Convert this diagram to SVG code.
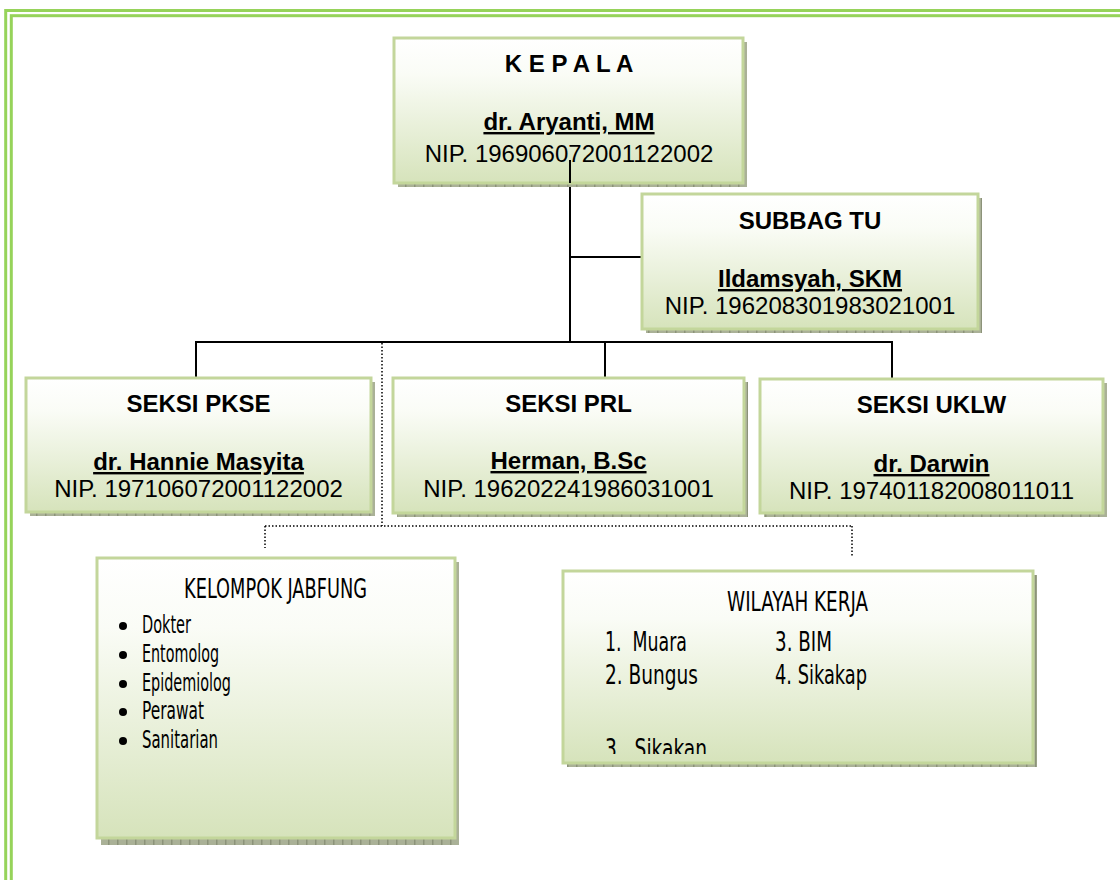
<svg xmlns="http://www.w3.org/2000/svg" width="1120" height="880" viewBox="0 0 1120 880">
<style>
.box{fill:url(#g);stroke:#c3d69b;stroke-width:3}
.sh{fill:url(#tick)}
.t{font-family:"Liberation Sans",Arial,sans-serif;font-size:24px;fill:#000;text-anchor:middle}
.b{font-weight:bold}
.u{text-decoration:underline}
.c{font-family:"Liberation Sans Narrow","DejaVu Sans Condensed","Liberation Sans",sans-serif;font-size:27px;fill:#000;white-space:pre}
.li{font-size:24px}
.ln{stroke:#000;stroke-width:2;fill:none}
.dt{stroke:#000;stroke-width:1.5;stroke-dasharray:1.5 2;fill:none}
.fr{fill:none;stroke:#96d35a;stroke-width:3}
</style>
<defs>
<linearGradient id="g" x1="0" y1="0" x2="0" y2="1">
<stop offset="0" stop-color="#ffffff"/>
<stop offset="0.25" stop-color="#fafcf6"/>
<stop offset="1" stop-color="#d6e3bb"/>
</linearGradient>
<pattern id="tick" width="9" height="9" patternUnits="userSpaceOnUse">
<rect width="9" height="9" fill="#aab197"/>
<rect width="1.5" height="9" fill="#8c937a"/>
</pattern>
<clipPath id="wclip"><rect x="563" y="571" width="470" height="183"/></clipPath>
</defs>
<rect width="1120" height="880" fill="#fff"/>
<rect class="fr" x="5.7" y="10.5" width="1300" height="1000"/>
<rect class="fr" x="11.3" y="15.7" width="1300" height="1000"/>

<g id="connectors">
<line class="ln" x1="570" y1="160" x2="570" y2="343"/>
<line class="ln" x1="570" y1="257" x2="642" y2="257"/>
<line class="ln" x1="195" y1="342" x2="893" y2="342"/>
<line class="ln" x1="196" y1="342" x2="196" y2="378"/>
<line class="ln" x1="605" y1="342" x2="605" y2="378"/>
<line class="ln" x1="892" y1="342" x2="892" y2="379"/>
<line class="dt" x1="382" y1="343" x2="382" y2="526"/>
<line class="dt" x1="265" y1="526" x2="852" y2="526"/>
<line class="dt" x1="265" y1="526" x2="265" y2="548"/>
<line class="dt" x1="852" y1="526" x2="852" y2="556"/>
</g>

<g id="kepala">
<rect class="sh" x="398" y="42" width="349" height="145"/>
<rect class="box" x="394" y="38" width="349" height="145"/>
<text class="t b" x="569" y="72">K E P A L A</text>
<text class="t b u" x="569" y="130">dr. Aryanti, MM</text>
<text class="t" x="569" y="162">NIP. 196906072001122002</text>
</g>
<line class="ln" x1="570" y1="160" x2="570" y2="183"/>

<g id="subbag">
<rect class="sh" x="646" y="198" width="336" height="135"/>
<rect class="box" x="642" y="194" width="336" height="135"/>
<text class="t b" x="810" y="229">SUBBAG TU</text>
<text class="t b u" x="810" y="287">Ildamsyah, SKM</text>
<text class="t" x="810" y="314">NIP. 196208301983021001</text>
</g>

<g id="pkse">
<rect class="sh" x="30" y="382" width="345" height="134"/>
<rect class="box" x="26" y="378" width="345" height="134"/>
<text class="t b" x="198.5" y="412">SEKSI PKSE</text>
<text class="t b u" x="198.5" y="470">dr. Hannie Masyita</text>
<text class="t" x="198.5" y="497">NIP. 197106072001122002</text>
</g>

<g id="prl">
<rect class="sh" x="397" y="382" width="351" height="135"/>
<rect class="box" x="393" y="378" width="351" height="135"/>
<text class="t b" x="568.5" y="412">SEKSI PRL</text>
<text class="t b u" x="568.5" y="469">Herman, B.Sc</text>
<text class="t" x="568.5" y="497">NIP. 196202241986031001</text>
</g>

<g id="uklw">
<rect class="sh" x="764" y="383" width="343" height="134"/>
<rect class="box" x="760" y="379" width="343" height="134"/>
<text class="t b" x="931.5" y="413">SEKSI UKLW</text>
<text class="t b u" x="931.5" y="472">dr. Darwin</text>
<text class="t" x="931.5" y="499">NIP. 197401182008011011</text>
</g>

<g id="jabfung">
<rect class="sh" x="101" y="562" width="358" height="283"/>
<rect class="box" x="97" y="558" width="358" height="280"/>
<text class="c" x="184" y="598" font-size="29" textLength="183" lengthAdjust="spacingAndGlyphs">KELOMPOK JABFUNG</text>
<circle cx="123" cy="626" r="4"/>
<circle cx="123" cy="655" r="4"/>
<circle cx="123" cy="684" r="4"/>
<circle cx="123" cy="712" r="4"/>
<circle cx="123" cy="741" r="4"/>
<text class="c li" x="142" y="633" textLength="49" lengthAdjust="spacingAndGlyphs">Dokter</text>
<text class="c li" x="142" y="662" textLength="77" lengthAdjust="spacingAndGlyphs">Entomolog</text>
<text class="c li" x="142" y="691" textLength="89" lengthAdjust="spacingAndGlyphs">Epidemiolog</text>
<text class="c li" x="142" y="719" textLength="62" lengthAdjust="spacingAndGlyphs">Perawat</text>
<text class="c li" x="142" y="748" textLength="76" lengthAdjust="spacingAndGlyphs">Sanitarian</text>
</g>

<g id="wilayah">
<rect class="sh" x="567" y="575" width="470" height="192"/>
<rect class="box" x="563" y="571" width="470" height="192"/>
<text class="c" x="727" y="611" textLength="141" lengthAdjust="spacingAndGlyphs">WILAYAH KERJA</text>
<text class="c" x="605" y="651" textLength="82" lengthAdjust="spacingAndGlyphs">1.  Muara</text>
<text class="c" x="775" y="651" textLength="57" lengthAdjust="spacingAndGlyphs">3. BIM</text>
<text class="c" x="605" y="684" textLength="93" lengthAdjust="spacingAndGlyphs">2. Bungus</text>
<text class="c" x="775" y="684" textLength="92" lengthAdjust="spacingAndGlyphs">4. Sikakap</text>
<text class="c" x="605" y="758" textLength="102" lengthAdjust="spacingAndGlyphs" clip-path="url(#wclip)">3.  Sikakan</text>
</g>
</svg>
